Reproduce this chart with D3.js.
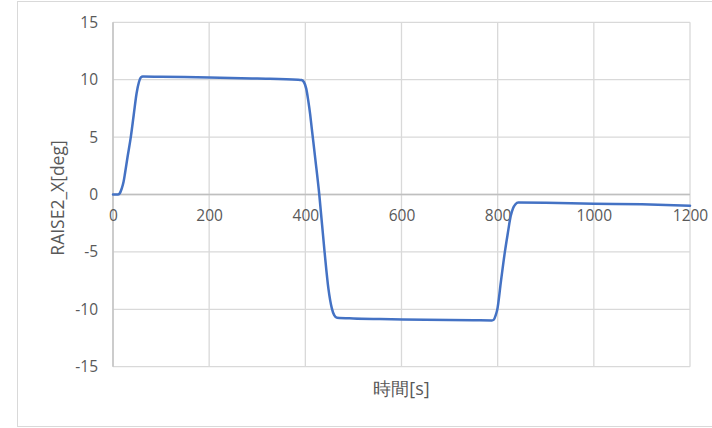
<!DOCTYPE html>
<html><head><meta charset="utf-8">
<script src="https://cdn.jsdelivr.net/npm/d3@7"></script>
<style>body{margin:0;background:#fff}svg{display:block}text{font-family:"Open Sans","Noto Sans",sans-serif;fill:#595959}</style>
</head><body><svg id="c" width="712" height="428"></svg>
<script>
const times = [0,10,14,18,22,25,30,37,43,49,54,58,62,100,200,300,385,392,397,402,406,410,413,421,429,440,448,455,460,466,500,555,650,750,788,792,796,799,807,815,821,827,832,837,843,900,1000,1100,1200];
const values = [0,0,0.1,0.5,1.1,1.85,3.2,5.0,6.9,8.8,9.8,10.2,10.28,10.25,10.2,10.1,10.0,9.97,9.8,9.2,8.2,7.0,5.9,3.0,0,-5,-8.2,-9.9,-10.5,-10.73,-10.8,-10.85,-10.9,-10.95,-10.97,-10.9,-10.5,-10.06,-7.5,-5,-3.4,-1.9,-1.2,-0.85,-0.7,-0.72,-0.8,-0.86,-0.97];
const xTicks = [0,200,400,600,800,1000,1200];
const yTicks = [-15,-10,-5,0,5,10,15];
const xLabel = "時間[s]";
const yLabel = "RAISE2_X[deg]";

const svg = d3.select("#c");
svg.append("rect").attr("x",17.5).attr("y",1.5).attr("width",720).attr("height",425)
  .attr("fill","#fff").attr("stroke","#d9d9d9").attr("stroke-width",1);

const L=113,R=690,T=22.3,B=366.7;
const x = d3.scaleLinear().domain([0,1200]).range([L,R]);
const y = d3.scaleLinear().domain([-15,15]).range([B,T]);

const g = svg.append("g");
g.selectAll(".vg").data(xTicks).join("line")
  .attr("x1",d=>x(d)).attr("x2",d=>x(d)).attr("y1",T).attr("y2",B)
  .attr("stroke","#d9d9d9").attr("stroke-width",1.3);
g.selectAll(".hg").data(yTicks).join("line")
  .attr("x1",L).attr("x2",R).attr("y1",d=>y(d)).attr("y2",d=>y(d))
  .attr("stroke","#d9d9d9").attr("stroke-width",1.3);
g.append("line").attr("x1",L).attr("x2",R).attr("y1",y(0)).attr("y2",y(0))
  .attr("stroke","#bfbfbf").attr("stroke-width",1.5);
g.append("line").attr("x1",L).attr("x2",L).attr("y1",T).attr("y2",B)
  .attr("stroke","#bfbfbf").attr("stroke-width",1.3);

const fmt = d => String(d);
const xa = svg.append("g").attr("transform",`translate(0,${y(0)})`)
  .call(d3.axisBottom(x).tickValues(xTicks).tickSize(0).tickPadding(15).tickFormat(fmt));
xa.select(".domain").remove();
xa.selectAll("text").style("font-size","15.5px").attr("fill","#595959");
const ya = svg.append("g").attr("transform",`translate(${L},0)`)
  .call(d3.axisLeft(y).tickValues(yTicks).tickSize(0).tickPadding(15).tickFormat(fmt));
ya.select(".domain").remove();
ya.selectAll("text").style("font-size","15.5px").attr("fill","#595959");

const data = times.map((t,i)=>[t,values[i]]);
svg.append("path").datum(data)
  .attr("d", d3.line().x(d=>x(d[0])).y(d=>y(d[1])).curve(d3.curveMonotoneX))
  .attr("fill","none").attr("stroke","#4472c4").attr("stroke-width",2.5)
  .attr("stroke-linejoin","round").attr("stroke-linecap","round");

svg.append("text").attr("x",(L+R)/2).attr("y",395).attr("text-anchor","middle")
  .style("font-size","18px").text(xLabel);
svg.append("text").attr("transform",`translate(64,198) rotate(-90)`).attr("text-anchor","middle")
  .style("font-size","17.5px").text(yLabel);
</script></body></html>
